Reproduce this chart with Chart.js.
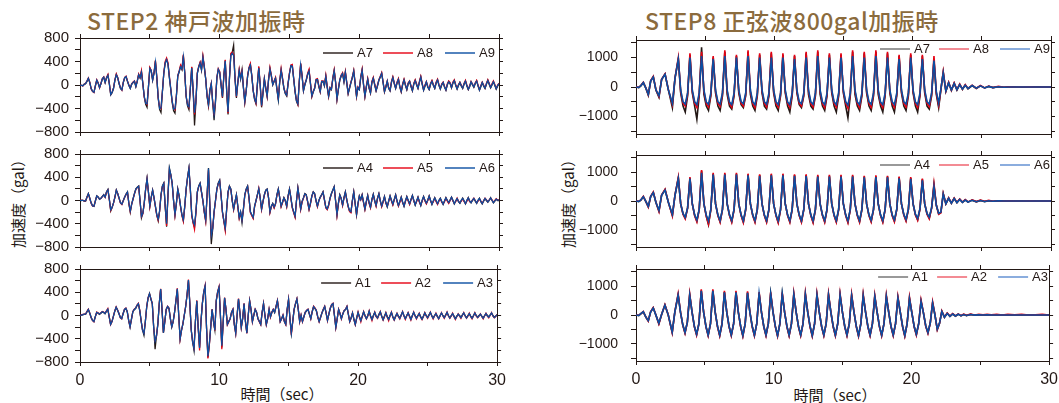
<!DOCTYPE html>
<html><head><meta charset="utf-8">
<script src="https://cdn.jsdelivr.net/npm/chart.js@4.4.1/dist/chart.umd.min.js"></script>
<style>
html,body{margin:0;padding:0;background:#fff;width:1059px;height:403px;overflow:hidden;position:relative;}
.p{position:absolute;}
.title{position:absolute;font-family:"Noto Sans CJK JP",sans-serif;font-weight:500;font-size:23px;letter-spacing:0.5px;color:#8b6b3d;white-space:nowrap;line-height:1;}
.ylab{position:absolute;width:120px;height:18px;line-height:18px;text-align:center;transform:rotate(-90deg);white-space:nowrap;font-family:"Noto Sans CJK JP",sans-serif;font-size:15px;color:#231815;}
.xlab{position:absolute;width:120px;height:18px;line-height:18px;text-align:center;white-space:nowrap;font-family:"Noto Sans CJK JP",sans-serif;font-size:15px;color:#231815;}
</style>
</head><body>
<div class="title" style="left:87px;top:9px;">STEP2 神戸波加振時</div>
<div class="title" style="left:645px;top:9px;">STEP8 正弦波800gal加振時</div>
<div class="ylab" style="left:-42px;top:191px;">加速度（gal）</div>
<div class="ylab" style="left:508px;top:191px;">加速度（gal）</div>
<div class="xlab" style="left:222px;top:385px;">時間（sec）</div>
<div class="xlab" style="left:775px;top:386px;">時間（sec）</div>
<script>
// ---- Kobe wave (STEP2), one value every KOBE_DT seconds from 0 to 30 s (10 per row = 1 s) ----
const KOBE_DT = 0.1;
const A7 = [0,-5,-10,10,20,60,110,40,-60,-110,
-120,-20,80,30,-40,20,100,130,40,120,
170,20,-170,-130,-60,80,180,120,20,-60,
-80,40,120,140,60,-10,-60,10,40,60,
-30,60,180,120,230,20,-200,-330,-380,-40,
290,240,80,200,410,120,-230,-420,-470,-120,
200,380,440,360,120,-80,-300,-440,-480,-200,
150,220,320,260,500,200,-200,-360,-420,-60,
300,-100,-690,-300,200,300,380,250,480,300,
100,-200,-360,-100,20,-300,-600,-300,120,260,
220,0,-220,150,420,-100,-500,100,520,560,
680,100,-220,30,250,100,260,-50,-300,-100,
150,280,350,150,-100,-250,-320,0,300,0,
-380,-150,100,-60,-200,80,280,150,0,60,
120,-80,-260,50,260,100,-60,-150,-190,20,
200,320,330,100,-120,-280,-340,50,360,150,
-100,0,80,180,250,20,-200,-120,-60,80,
100,-30,-120,50,60,-20,150,-40,-200,-60,
-80,100,250,40,-250,-80,80,150,200,50,
220,30,-150,-60,40,120,240,20,-200,-50,
-80,120,260,0,-200,-40,100,-60,-140,40,
120,0,-100,-20,80,130,200,40,-120,-40,
60,-60,-100,40,130,20,-60,30,100,-40,
-120,0,90,-10,-80,20,60,-30,-100,10,
80,0,-60,40,140,10,-90,-20,50,-40,
-80,10,70,-10,-60,30,90,-10,-70,0,
40,-40,-90,0,60,20,-50,30,80,-10,
-70,-10,40,-20,-60,10,70,-20,-80,-30,
50,0,-40,20,70,-20,-90,-30,40,-20,
-60,10,80,10,-50,0,60,-10,-70,-20,
20];
const A8 = [0,-5,-20,15,30,70,120,50,-70,-110,
-130,-10,90,40,-50,30,110,140,50,130,
180,30,-160,-120,-50,90,190,130,30,-50,
-90,50,130,150,70,0,-50,20,50,70,
-20,70,190,130,250,30,-210,-300,-330,-30,
300,250,90,210,420,140,-220,-380,-400,-110,
210,400,460,380,150,-60,-280,-400,-420,-180,
160,240,340,280,520,220,-190,-330,-380,-50,
310,-80,-500,-270,210,320,390,270,500,320,
110,-180,-340,-80,30,-280,-520,-260,130,280,
230,20,-210,170,430,-80,-480,120,540,560,
520,120,-200,50,270,120,240,-30,-290,-90,
160,300,370,170,-90,-230,-310,20,320,20,
-360,-130,110,-40,-190,100,300,170,10,70,
130,-60,-250,70,280,120,-50,-130,-170,40,
210,340,350,120,-110,-260,-330,70,370,170,
-90,20,90,200,270,40,-190,-100,-50,100,
110,-10,-110,70,70,0,170,-20,-190,-40,
-70,120,260,60,-240,-60,90,170,210,70,
230,50,-140,-40,50,140,250,40,-190,-30,
-70,140,270,20,-190,-20,110,-40,-130,60,
130,20,-90,0,90,150,210,60,-110,-20,
70,-40,-90,60,140,40,-50,50,110,-20,
-110,20,100,10,-70,40,70,-10,-90,30,
90,20,-50,60,150,30,-80,0,60,-20,
-70,30,80,10,-50,50,100,10,-60,20,
50,-20,-80,20,70,40,-40,50,90,10,
-60,10,50,0,-50,30,80,0,-70,-10,
60,20,-30,40,80,0,-80,-10,50,0,
-50,30,90,30,-40,20,70,10,-60,0,
30];
const A9 = [0,-5,-15,12,25,65,115,45,-65,-105,
-125,-15,85,35,-45,25,105,135,45,125,
165,25,-165,-125,-55,85,175,125,25,-55,
-85,45,125,145,65,-5,-55,15,45,65,
-25,65,175,125,220,25,-190,-310,-320,-35,
280,245,85,205,390,130,-215,-400,-390,-115,
195,370,430,350,130,-70,-270,-410,-400,-190,
155,230,310,270,480,210,-180,-340,-370,-55,
290,-90,-470,-280,195,310,370,260,470,310,
105,-190,-330,-90,25,-290,-500,-280,125,270,
215,10,-200,160,410,-90,-460,110,500,540,
500,110,-190,40,245,110,230,-40,-280,-95,
145,290,340,160,-95,-240,-300,10,290,10,
-350,-140,105,-50,-185,90,270,160,5,65,
115,-70,-240,60,250,110,-55,-140,-175,30,
195,330,320,110,-110,-270,-320,60,345,160,
-95,10,85,190,240,30,-185,-110,-55,90,
95,-20,-110,60,65,-10,145,-30,-185,-50,
-75,110,240,50,-235,-70,85,160,195,60,
215,40,-140,-50,45,130,235,30,-185,-40,
-75,130,250,10,-185,-30,95,-50,-130,50,
115,10,-95,-10,85,140,195,50,-110,-30,
65,-50,-95,50,125,30,-55,40,95,-30,
-110,10,85,0,-75,30,65,-20,-95,20,
75,10,-55,50,135,20,-85,-10,55,-30,
-75,20,65,0,-55,40,85,0,-65,10,
45,-30,-85,10,55,30,-45,40,75,0,
-65,0,45,-10,-55,20,65,-10,-75,-20,
55,10,-35,30,65,-10,-85,-20,45,-10,
-55,20,75,20,-45,10,55,0,-65,-10,
25];
const A4 = [0,0,5,-10,-10,60,120,40,-40,-90,
-100,-10,80,60,20,40,70,100,60,150,
190,20,-180,-120,-40,60,180,120,40,-40,
-60,0,60,110,150,-50,-200,-60,30,120,
200,230,250,0,-300,-220,-40,200,380,150,
-100,60,180,50,-100,-250,-350,-180,100,250,
300,-100,-450,100,560,450,300,0,-250,-50,
200,80,-100,-250,-350,-100,200,400,560,200,
-250,-380,-460,-200,150,250,300,150,0,-200,
-350,100,560,-100,-750,-500,-200,0,200,300,
350,100,-200,-350,-500,-150,150,250,200,0,
-150,-20,100,-100,-300,-200,-380,-150,100,200,
250,50,-200,-250,-300,-100,0,100,200,50,
-150,-20,100,180,200,50,-200,-100,-50,-120,
-50,100,200,50,-100,-30,50,0,-100,80,
200,50,-120,-200,-280,0,220,50,-150,-20,
50,120,100,-20,-150,-50,80,150,120,0,
-100,0,60,100,150,20,-120,-150,-80,40,
120,180,240,0,-250,-50,100,40,-80,50,
150,20,-100,-180,-200,0,150,-50,-250,-60,
80,20,100,-30,-150,-20,90,-40,-120,20,
110,0,-90,40,120,0,-100,-20,70,-40,
-110,-10,80,0,-70,20,100,-10,-90,-20,
60,-30,-100,-10,70,0,-60,20,90,0,
-80,-10,60,-20,-90,0,70,0,-50,10,
80,0,-70,-10,50,-10,-60,0,40,-20,
-70,-10,50,0,-40,10,60,0,-60,-10,
30,-20,-50,0,40,-10,-60,0,50,-10,
-40,0,30,-10,-50,0,40,-20,-60,-10,
30,0,-30,0,50,0,-40,-10,20,0,
0];
const A5 = [0,5,0,-5,-5,55,115,35,-50,-95,
-95,-5,75,55,25,35,65,95,55,145,
180,15,-170,-115,-45,55,175,115,35,-45,
-70,-5,55,105,140,-55,-190,-65,25,115,
190,220,240,-10,-280,-230,-50,190,370,140,
-110,50,170,40,-110,-260,-340,-190,90,240,
290,-110,-440,90,520,440,290,-10,-260,-60,
190,70,-110,-260,-360,-110,190,390,540,190,
-260,-390,-500,-210,140,240,290,140,-10,-210,
-360,90,530,-110,-580,-480,-210,-10,190,290,
340,90,-210,-360,-520,-160,140,240,190,-10,
-160,-30,90,-110,-310,-210,-330,-160,90,190,
240,40,-210,-260,-310,-110,-10,90,210,40,
-160,-30,90,170,190,40,-210,-110,-60,-130,
-60,90,190,40,-110,-40,40,-10,-110,70,
190,40,-130,-210,-290,-10,210,40,-160,-30,
40,110,90,-30,-160,-60,70,140,110,-10,
-110,-10,50,90,140,10,-130,-160,-90,30,
110,170,230,-10,-260,-60,90,30,-90,40,
140,10,-110,-190,-210,-10,140,-60,-240,-70,
70,10,90,-40,-160,-30,80,-50,-130,10,
100,-10,-100,30,110,-10,-110,-30,60,-50,
-100,-20,70,-10,-80,10,90,-20,-100,-30,
50,-40,-90,-20,60,-10,-70,10,80,-10,
-70,-20,50,-30,-80,-10,60,-10,-60,0,
70,-10,-60,-20,40,-20,-70,-10,30,-30,
-60,-20,40,-10,-50,0,50,-10,-50,-20,
40,-10,-40,-10,30,-20,-50,-10,40,-20,
-30,10,40,0,-40,-10,30,-10,-50,0,
40,10,-20,10,40,10,-30,0,30,10,
10];
const A6 = [0,2,3,-8,-8,58,118,38,-45,-92,
-98,-8,78,58,22,38,68,98,58,148,
185,18,-160,-118,-42,58,178,118,38,-42,
-62,-2,58,108,145,-52,-180,-62,28,118,
195,225,245,-5,-270,-215,-45,195,375,145,
-95,55,175,45,-95,-245,-320,-175,95,245,
295,-95,-400,95,550,445,295,-5,-240,-55,
195,75,-95,-245,-330,-95,195,395,555,195,
-240,-365,-420,-195,145,245,295,145,-5,-195,
-330,95,550,-95,-600,-480,-190,-5,195,295,
345,95,-190,-345,-470,-145,145,245,195,-5,
-145,-15,95,-95,-290,-195,-340,-145,95,195,
245,45,-190,-245,-290,-95,-5,95,205,45,
-145,-15,95,175,195,45,-195,-95,-55,-115,
-55,95,195,45,-95,-25,45,-5,-95,75,
195,45,-115,-195,-270,-5,215,45,-145,-15,
45,115,95,-15,-145,-45,75,145,115,-5,
-95,-5,55,95,145,15,-115,-145,-75,35,
115,175,235,-5,-240,-45,95,35,-75,45,
145,15,-95,-175,-195,-5,145,-45,-235,-55,
75,15,95,-25,-145,-15,85,-35,-115,15,
105,-5,-85,35,115,-5,-95,-15,65,-35,
-105,-5,75,5,-65,15,95,-5,-85,-15,
55,-25,-95,-5,65,5,-55,15,85,5,
-75,-5,55,-15,-85,5,65,5,-45,5,
75,5,-65,-5,45,-5,-55,5,35,-15,
-65,-5,45,5,-35,5,55,5,-55,-5,
35,-15,-45,5,35,-5,-55,5,45,-5,
-35,5,35,-5,-45,5,35,-15,-55,-5,
35,5,-25,5,45,5,-35,-5,25,5,
5];
const A1 = [0,5,10,20,20,60,100,40,-30,-80,
-100,-20,50,40,20,40,60,50,30,70,
100,-20,-150,-100,-20,70,140,90,30,-30,
-50,30,100,120,60,-80,-200,-60,60,100,
120,170,200,80,-100,-250,-340,-100,150,300,
380,280,200,-200,-580,-350,-150,200,450,100,
-300,-100,100,150,120,-50,-200,-100,50,250,
450,0,-400,-250,-150,0,150,350,600,200,
-250,-450,-600,-100,250,-200,-550,-100,200,400,
500,-200,-720,-500,-200,100,-100,-250,250,400,
480,0,-550,-100,300,100,-150,-100,-50,50,
100,-150,-300,0,280,50,-200,-50,200,-100,
-300,0,250,100,-100,0,100,50,-50,-100,
-150,50,200,0,-150,-50,100,-20,50,100,
50,150,250,80,-100,-50,0,-100,-150,100,
270,-50,-310,-100,100,200,280,100,-100,0,
-100,-20,50,80,100,20,-50,60,150,120,
80,-20,-100,-30,40,100,150,40,-80,20,
120,180,200,0,-200,-50,100,30,-50,20,
80,100,150,20,-100,-40,40,-60,-150,-40,
50,-20,-80,-10,60,0,-50,0,70,-10,
-60,0,50,-10,-40,20,60,-10,-70,-10,
40,-20,-60,0,50,-20,-70,-10,30,-10,
-40,10,60,0,-50,0,40,-10,-60,0,
50,0,-40,0,30,-20,-60,-10,40,0,
-30,10,50,0,-40,0,30,-10,-50,0,
40,0,-30,10,50,0,-40,0,30,-10,
-50,-10,20,0,-30,10,40,0,-40,0,
30,-10,-40,0,40,0,-30,0,20,-10,
-40,0,30,0,-20,10,40,0,-30,-10,
10];
const A2 = [0,10,20,25,25,70,110,45,-40,-90,
-110,-25,60,45,30,45,70,60,40,80,
120,-25,-160,-110,-10,80,150,100,40,-40,
-60,35,110,130,70,-90,-190,-70,70,110,
130,180,210,90,-90,-260,-300,-110,160,310,
370,290,210,-210,-420,-360,-140,210,460,110,
-290,-110,110,160,130,-60,-190,-110,60,260,
470,10,-410,-260,-140,10,160,360,620,210,
-240,-460,-560,-110,260,-210,-600,-110,210,410,
520,-210,-740,-520,-210,110,-90,-260,260,410,
500,10,-580,-110,310,110,-160,-110,-60,60,
110,-160,-310,10,290,60,-210,-60,210,-110,
-310,10,260,110,-110,10,110,60,-60,-110,
-160,60,210,10,-160,-60,110,-30,60,110,
60,160,260,90,-110,-60,10,-110,-160,110,
280,-60,-330,-110,110,210,290,110,-110,10,
-110,-30,60,90,110,30,-60,70,160,130,
90,-30,-110,-40,50,110,160,50,-90,30,
130,190,210,10,-210,-60,110,40,-60,30,
90,110,160,30,-110,-50,50,-70,-160,-50,
60,-30,-110,-20,70,-10,-60,-10,80,-20,
-90,-10,60,-20,-50,10,70,-20,-80,-20,
50,-30,-90,-10,60,-30,-80,-20,40,-20,
-60,0,70,-10,-70,-10,50,-20,-80,-10,
60,-10,-60,-10,40,-30,-70,-20,50,-10,
-50,0,60,-10,-60,-10,40,-20,-60,-10,
50,-10,-50,0,60,-10,-50,-10,40,-20,
-70,-20,30,-10,-50,0,50,-10,-50,-10,
40,-20,-60,-10,50,-10,-40,-10,30,-20,
-60,-10,40,-10,-40,0,50,-10,-40,-20,
20];
const A3 = [0,8,15,22,22,65,105,42,-35,-85,
-105,-22,55,42,25,42,65,55,35,75,
110,-22,-155,-105,-15,75,145,95,35,-35,
-55,32,105,125,65,-85,-195,-65,65,105,
125,175,205,85,-95,-255,-310,-105,155,305,
375,285,205,-205,-440,-355,-145,205,455,105,
-295,-105,105,155,125,-55,-195,-105,55,255,
460,5,-400,-255,-145,5,155,355,610,205,
-245,-455,-570,-105,255,-205,-560,-105,205,405,
510,-205,-700,-505,-205,105,-95,-255,255,405,
490,5,-520,-105,305,105,-155,-105,-55,55,
105,-155,-305,5,285,55,-205,-55,205,-105,
-305,5,255,105,-105,5,105,55,-55,-105,
-155,55,205,5,-155,-55,105,-25,55,105,
55,155,255,85,-105,-55,5,-105,-155,105,
275,-55,-300,-105,105,205,285,105,-105,5,
-105,-25,55,85,105,25,-55,65,155,125,
85,-25,-105,-35,45,105,155,45,-85,25,
125,185,205,5,-205,-55,105,35,-55,25,
85,105,155,25,-105,-45,45,-65,-155,-45,
55,-25,-90,-15,65,-5,-55,-5,75,-15,
-70,-5,55,-15,-45,15,65,-15,-75,-15,
45,-25,-70,-5,55,-25,-75,-15,35,-15,
-50,5,65,-5,-55,-5,45,-15,-70,-5,
55,-5,-50,-5,35,-25,-65,-15,45,-5,
-40,5,55,-5,-50,-5,35,-15,-55,-5,
45,-5,-40,5,55,-5,-45,-5,35,-15,
-60,-15,25,-5,-40,5,45,-5,-45,-5,
35,-15,-50,-5,45,-5,-35,-5,25,-15,
-50,-5,35,-5,-30,5,45,-5,-35,-15,
15];

// ---- Sine wave 800 gal (STEP8): sample times (s) and values ----
const SINE_T = [0,0.2,0.35,0.53,0.72,0.89,1.06,1.25,1.44,1.66,1.85,2.1,2.34,2.63,2.82,
3.06,3.23,3.40,3.56,3.73, 3.90,4.07,4.24,4.40,4.57, 4.74,4.91,5.08,5.24,5.41,
5.58,5.75,5.92,6.08,6.25, 6.42,6.59,6.76,6.92,7.09, 7.26,7.43,7.60,7.76,7.93,
8.10,8.27,8.44,8.60,8.77, 8.94,9.11,9.28,9.44,9.61, 9.78,9.95,10.12,10.28,10.45,
10.62,10.79,10.96,11.12,11.29, 11.46,11.63,11.80,11.96,12.13, 12.30,12.47,12.64,12.80,12.97,
13.14,13.31,13.48,13.64,13.81, 13.98,14.15,14.32,14.48,14.65, 14.82,14.99,15.16,15.32,15.49,
15.66,15.83,16.00,16.16,16.33, 16.50,16.67,16.84,17.00,17.17, 17.34,17.51,17.68,17.84,18.01,
18.18,18.35,18.52,18.68,18.85, 19.02,19.19,19.36,19.52,19.69, 19.86,20.03,20.20,20.36,20.53,
20.70,20.87,21.04,21.20,21.37, 21.54,21.71,21.88,22.04,22.21,
22.4,22.6,22.8,23.0,23.2,23.4,23.6,23.8,24.0,24.3,24.6,24.9,25.2,25.5,25.8,26.2,26.6,27.0,27.5,28.0,28.5,29.0,29.5,30.0];
const S7 = [0,-20,40,150,-50,-280,200,350,-100,-350,250,440,-100,-700,300,
950,-200,-650,-850,-300, 1100,-200,-650,-1100,-300, 1350,-250,-650,-800,-300,
1000,-200,-650,-800,-300, 1200,-250,-650,-750,-300, 1050,-200,-600,-700,-300,
1200,-250,-650,-800,-300, 1100,-200,-650,-750,-300, 1150,-200,-650,-800,-300,
1100,-200,-650,-850,-300, 1050,-200,-600,-700,-300, 1150,-250,-650,-750,-300,
1200,-250,-650,-800,-300, 1100,-200,-650,-850,-300, 1100,-200,-650,-1050,-300,
1200,-250,-650,-800,-300, 1150,-200,-650,-800,-300, 1200,-250,-650,-850,-300,
1150,-200,-650,-850,-300, 1050,-200,-650,-800,-300, 1100,-200,-650,-850,-300,
1050,-200,-650,-750,-300, 900,-250,-700,-100,500,
-150,150,-120,130,-100,90,-80,70,-60,50,-50,40,-30,20,-20,10,-10,10,0,-10,0,10,0,0];
const S8 = [0,-10,50,160,-40,-260,210,360,-90,-320,260,450,-90,-600,310,
1000,-150,-550,-650,-250, 1150,-150,-550,-700,-250, 1200,-150,-560,-680,-250,
1050,-150,-550,-660,-250, 1250,-150,-560,-690,-250, 1100,-150,-550,-650,-250,
1250,-150,-560,-700,-250, 1150,-150,-550,-680,-250, 1200,-150,-560,-690,-250,
1150,-150,-550,-700,-250, 1100,-150,-550,-650,-250, 1200,-150,-560,-680,-250,
1250,-150,-560,-700,-250, 1150,-150,-550,-690,-250, 1150,-150,-550,-720,-250,
1250,-150,-560,-700,-250, 1200,-150,-550,-690,-250, 1250,-150,-560,-700,-250,
1200,-150,-550,-700,-250, 1100,-150,-550,-680,-250, 1150,-150,-560,-700,-250,
1100,-150,-550,-670,-250, 1050,-200,-620,-80,520,
-140,160,-110,140,-90,100,-70,80,-50,60,-40,50,-30,30,-20,20,-10,10,0,0,10,0,0,0];
const S9 = [0,-15,45,150,-45,-250,200,340,-95,-300,250,430,-95,-550,300,
950,-100,-500,-580,-200, 1000,-100,-500,-600,-200, 1050,-100,-510,-590,-200,
950,-100,-500,-580,-200, 1050,-100,-510,-600,-200, 1000,-100,-500,-570,-200,
1050,-100,-510,-600,-200, 1000,-100,-500,-590,-200, 1000,-100,-500,-600,-200,
1000,-100,-510,-600,-200, 950,-100,-500,-570,-200, 1000,-100,-510,-590,-200,
1050,-100,-510,-600,-200, 1000,-100,-500,-600,-200, 1000,-100,-500,-620,-200,
1050,-100,-510,-600,-200, 1000,-100,-500,-590,-200, 1050,-100,-510,-600,-200,
1000,-100,-500,-600,-200, 950,-100,-500,-580,-200, 1000,-100,-510,-600,-200,
950,-100,-500,-580,-200, 900,-150,-550,-60,480,
-130,140,-100,120,-90,80,-70,60,-50,50,-40,40,-30,20,-20,10,-10,0,0,0,0,0,0,0];
const S4 = [0,-20,30,150,-30,-200,150,300,-50,-350,200,400,-50,-500,200,
800,-100,-450,-600,-250, 800,-100,-500,-700,-300, 1050,-100,-520,-820,-300,
950,-100,-500,-720,-300, 950,-100,-500,-720,-300, 950,-100,-500,-730,-300,
920,-100,-500,-720,-300, 900,-100,-500,-720,-300, 920,-100,-500,-740,-300,
920,-100,-500,-720,-300, 900,-100,-500,-720,-300, 900,-100,-500,-730,-300,
880,-100,-500,-720,-300, 880,-100,-500,-720,-300, 880,-100,-500,-730,-300,
880,-100,-500,-720,-300, 850,-100,-500,-710,-300, 860,-100,-500,-720,-300,
850,-100,-500,-700,-300, 820,-100,-480,-680,-300, 800,-100,-480,-650,-280,
750,-100,-450,-600,-250, 550,-150,-450,-400,250,
-100,100,-80,90,-60,60,-50,40,-40,30,-30,20,-20,10,-10,10,0,0,0,0,0,0,0,0];
const S5 = [0,-10,40,160,-20,-210,160,310,-40,-370,210,410,-40,-520,210,
830,-90,-460,-620,-240, 830,-90,-510,-720,-290, 1080,-90,-530,-800,-290,
980,-90,-510,-740,-290, 980,-90,-510,-740,-290, 980,-90,-510,-750,-290,
950,-90,-510,-740,-290, 930,-90,-510,-740,-290, 950,-90,-510,-760,-290,
950,-90,-510,-740,-290, 930,-90,-510,-740,-290, 930,-90,-510,-750,-290,
910,-90,-510,-740,-290, 910,-90,-510,-740,-290, 910,-90,-510,-750,-290,
910,-90,-510,-740,-290, 880,-90,-510,-730,-290, 890,-90,-510,-740,-290,
880,-90,-510,-720,-290, 850,-90,-490,-700,-290, 830,-90,-490,-670,-270,
780,-90,-460,-620,-240, 600,-140,-460,-410,260,
-90,110,-70,100,-50,70,-40,50,-30,40,-20,30,-10,20,-10,10,0,10,0,0,10,0,0,0];
const S6 = [0,-15,35,150,-25,-190,150,290,-45,-330,200,380,-45,-470,200,
780,-100,-430,-570,-240, 780,-100,-480,-660,-280, 980,-100,-490,-700,-280,
920,-100,-480,-680,-280, 920,-100,-480,-680,-280, 920,-100,-480,-690,-280,
890,-100,-480,-680,-280, 870,-100,-480,-680,-280, 890,-100,-480,-690,-280,
890,-100,-480,-680,-280, 870,-100,-480,-680,-280, 870,-100,-480,-690,-280,
850,-100,-480,-680,-280, 850,-100,-480,-680,-280, 850,-100,-480,-690,-280,
850,-100,-480,-680,-280, 820,-100,-480,-670,-280, 830,-100,-480,-680,-280,
820,-100,-480,-660,-280, 790,-100,-460,-640,-280, 770,-100,-460,-610,-260,
720,-100,-430,-560,-230, 500,-150,-430,-380,240,
-95,95,-75,85,-55,55,-45,35,-35,25,-25,15,-15,10,-10,5,0,0,0,0,0,0,0,0];
const S1 = [0,-20,40,110,-80,-200,100,250,0,-300,0,350,0,-600,100,
700,100,-350,-620,-250, 700,100,-400,-680,-300, 850,100,-400,-700,-300,
850,100,-400,-710,-300, 800,100,-400,-700,-300, 800,100,-400,-720,-300,
780,100,-400,-710,-300, 760,100,-400,-700,-300, 750,100,-400,-720,-300,
740,100,-400,-710,-300, 720,100,-400,-700,-300, 720,100,-400,-720,-300,
700,100,-400,-700,-300, 700,100,-400,-710,-300, 700,100,-400,-700,-300,
680,100,-400,-720,-300, 680,100,-400,-700,-300, 650,100,-400,-710,-300,
650,100,-400,-700,-300, 600,100,-400,-720,-300, 580,80,-400,-680,-300,
480,80,-380,-620,-280, 420,0,-500,-300,130,
-80,60,-50,40,-40,30,-30,20,-20,20,-10,10,0,10,0,0,0,0,0,0,0,0,0,0];
const S2 = [0,-10,50,120,-70,-210,110,260,10,-310,10,360,10,-620,110,
740,110,-360,-640,-240, 740,110,-410,-700,-290, 890,110,-410,-720,-290,
890,110,-410,-730,-290, 840,110,-410,-720,-290, 840,110,-410,-740,-290,
820,110,-410,-730,-290, 800,110,-410,-720,-290, 790,110,-410,-740,-290,
780,110,-410,-730,-290, 760,110,-410,-720,-290, 760,110,-410,-740,-290,
740,110,-410,-720,-290, 740,110,-410,-730,-290, 740,110,-410,-720,-290,
720,110,-410,-740,-290, 720,110,-410,-720,-290, 690,110,-410,-730,-290,
690,110,-410,-720,-290, 640,110,-410,-740,-290, 620,90,-410,-700,-290,
520,90,-390,-640,-270, 460,10,-510,-290,140,
-70,70,-40,50,-30,40,-20,30,-10,30,0,20,10,20,10,20,0,20,10,20,0,10,20,0];
const S3 = [0,-15,45,115,-75,-195,105,245,5,-290,5,345,5,-590,105,
690,100,-340,-610,-250, 690,100,-390,-670,-300, 840,100,-390,-690,-300,
840,100,-390,-700,-300, 790,100,-390,-690,-300, 790,100,-390,-710,-300,
770,100,-390,-700,-300, 750,100,-390,-690,-300, 740,100,-390,-710,-300,
730,100,-390,-700,-300, 710,100,-390,-690,-300, 710,100,-390,-710,-300,
690,100,-390,-690,-300, 690,100,-390,-700,-300, 690,100,-390,-690,-300,
670,100,-390,-710,-300, 670,100,-390,-690,-300, 640,100,-390,-700,-300,
640,100,-390,-690,-300, 590,100,-390,-710,-300, 570,80,-390,-670,-300,
470,80,-370,-610,-280, 410,0,-490,-290,120,
-75,55,-45,35,-35,25,-25,15,-15,15,-5,5,0,5,0,0,0,0,0,0,0,0,0,0];

// ---- axis ticks and labels ----
const X_TICKS = [0,5,10,15,20,25,30];
const X_TICK_LABELS = ['0','','10','','20','','30'];
const LEFT_Y_TICKS = [-800,-600,-400,-200,0,200,400,600,800];
const LEFT_Y_LABELS = ['\u2212800','','\u2212400','','0','','400','','800'];
const RIGHT_Y_TICKS = [-1500,-1000,-500,0,500,1000,1500];
const RIGHT_Y_LABELS = ['','\u22121000','','0','','1000',''];

const COLORS = ['#231815','#e60012','#0a4ea2'];
const LEGEND_COLORS_RIGHT = ['#6e6e6e','#ee5a66','#5a8ad0'];
const INK = '#231815';

Chart.defaults.font.family = '"Liberation Sans", Arial, sans-serif';

const inLegend = {
  id: 'inLegend',
  afterDatasetsDraw(chart, args, opts) {
    const ctx = chart.ctx, a = chart.chartArea;
    ctx.save();
    ctx.font = opts.font;
    ctx.textBaseline = 'middle';
    ctx.fillStyle = INK;
    const y = a.top + opts.dy;
    chart.data.datasets.forEach((ds, i) => {
      const x = a.right - opts.offsets[i];
      ctx.strokeStyle = opts.colors[i];
      ctx.lineWidth = 1.4;
      ctx.beginPath(); ctx.moveTo(x, y); ctx.lineTo(x + 30, y); ctx.stroke();
      ctx.fillText(ds.label, x + 34, y + 0.5);
    });
    ctx.restore();
  }
};

function setTicks(list) { return s => { s.ticks = list.map(v => ({ value: v })); }; }

function makePanel(cfg) {
  const padL = 60, padR = 12, padT = 26, padB = cfg.bottom ? 30 : 26;
  const w = cfg.right - cfg.left, h = cfg.bot - cfg.top;
  const div = document.createElement('div');
  div.className = 'p';
  div.style.left = (cfg.left - padL) + 'px';
  div.style.top = (cfg.top - padT) + 'px';
  const cw = padL + w + padR, ch = padT + h + padB;
  div.style.width = cw + 'px'; div.style.height = ch + 'px';
  const cv = document.createElement('canvas');
  cv.width = cw; cv.height = ch;
  cv.style.width = cw + 'px'; cv.style.height = ch + 'px';
  div.appendChild(cv);
  document.body.appendChild(div);
  const gridOpt = { drawOnChartArea: false, drawTicks: true, tickLength: 4, color: INK, lineWidth: 1 };
  const borderOpt = { display: true, color: INK, width: 1 };
  new Chart(cv.getContext('2d'), {
    type: 'line',
    data: {
      datasets: cfg.series.map((s, i) => ({
        label: cfg.names[i],
        data: s.map((v, j) => ({ x: cfg.times[j], y: v })),
        borderColor: COLORS[i],
        borderWidth: cfg.lw,
        pointRadius: 0,
        tension: 0,
        fill: false,
        order: 2 - i
      }))
    },
    options: {
      responsive: false, animation: false, devicePixelRatio: 1,
      layout: { padding: 0 },
      plugins: {
        legend: { display: false }, tooltip: { enabled: false },
        inLegend: { font: '13px "Liberation Sans", Arial, sans-serif', dy: cfg.legDy, offsets: cfg.legOff, colors: cfg.legColors }
      },
      scales: {
        x: {
          type: 'linear', position: 'bottom', min: 0, max: 30, bounds: 'data',
          afterBuildTicks: setTicks(X_TICKS),
          ticks: { display: cfg.bottom, autoSkip: false, maxRotation: 0, color: INK, font: { size: 16 }, padding: 5,
            callback: (v, i) => X_TICK_LABELS[i] },
          grid: gridOpt, border: borderOpt,
          afterFit: s => { s.height = padB; }
        },
        x2: {
          type: 'linear', position: 'top', min: 0, max: 30, bounds: 'data',
          afterBuildTicks: setTicks(X_TICKS),
          ticks: { display: false, autoSkip: false },
          grid: gridOpt, border: borderOpt,
          afterFit: s => { s.height = padT; }
        },
        y: {
          type: 'linear', position: 'left', min: -cfg.ymax, max: cfg.ymax, bounds: 'data',
          afterBuildTicks: setTicks(cfg.yTicks),
          ticks: { autoSkip: false, color: INK, font: { size: cfg.yFont }, padding: cfg.yPad,
            callback: (v, i) => cfg.yLabels[i] },
          grid: Object.assign({}, gridOpt, { tickLength: 5 }), border: borderOpt,
          afterFit: s => { s.width = padL; }
        },
        y2: {
          type: 'linear', position: 'right', min: -cfg.ymax, max: cfg.ymax, bounds: 'data',
          afterBuildTicks: setTicks(cfg.yTicks),
          ticks: { display: false, autoSkip: false },
          grid: gridOpt, border: borderOpt,
          afterFit: s => { s.width = padR; }
        }
      }
    },
    plugins: [inLegend]
  });
}

const kobeT = A7.map((_, i) => Math.round(i * KOBE_DT * 100) / 100);
const leftBase = { left: 80, right: 499, ymax: 800, yTicks: LEFT_Y_TICKS, yLabels: LEFT_Y_LABELS, yFont: 15, yPad: 6, lw: 1.25, times: kobeT, legOff: [176, 116, 54], legColors: COLORS };
makePanel(Object.assign({}, leftBase, { top: 38, bot: 132, bottom: false, series: [A7, A8, A9], names: ['A7', 'A8', 'A9'], legDy: 15 }));
makePanel(Object.assign({}, leftBase, { top: 154, bot: 247, bottom: false, series: [A4, A5, A6], names: ['A4', 'A5', 'A6'], legDy: 14 }));
makePanel(Object.assign({}, leftBase, { top: 269, bot: 362, bottom: true, series: [A1, A2, A3], names: ['A1', 'A2', 'A3'], legDy: 14 }));

const rightBase = { left: 636, right: 1051, ymax: 1600, yTicks: RIGHT_Y_TICKS, yLabels: RIGHT_Y_LABELS, yFont: 14, yPad: 13, lw: 1.6, times: SINE_T, legOff: [171, 112, 51], legColors: LEGEND_COLORS_RIGHT };
makePanel(Object.assign({}, rightBase, { top: 40, bot: 134, bottom: false, series: [S7, S8, S9], names: ['A7', 'A8', 'A9'], legDy: 9 }));
makePanel(Object.assign({}, rightBase, { top: 155, bot: 247, bottom: false, series: [S4, S5, S6], names: ['A4', 'A5', 'A6'], legDy: 10 }));
makePanel(Object.assign({}, rightBase, { top: 269, bot: 361, bottom: true, series: [S1, S2, S3], names: ['A1', 'A2', 'A3'], legDy: 8 }));
</script>
</body></html>
